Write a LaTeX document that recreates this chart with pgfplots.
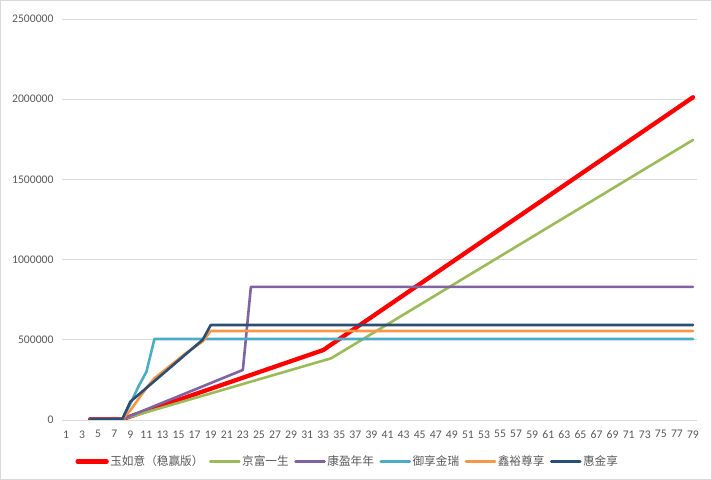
\documentclass[border=0pt]{standalone}
\usepackage{pgfplots}
\pgfplotsset{compat=1.18}
\usepackage{fontspec}
\setmainfont{Carlito}
\newfontfamily\cjk{Noto Sans CJK SC}
\definecolor{gridc}{HTML}{D9D9D9}
\definecolor{textc}{HTML}{595959}
\definecolor{cred}{HTML}{FF0000}
\definecolor{cgreen}{HTML}{9BBB59}
\definecolor{cpurple}{HTML}{8064A2}
\definecolor{ccyan}{HTML}{4BACC6}
\definecolor{corange}{HTML}{F79646}
\definecolor{cnavy}{HTML}{2C4D75}
\begin{document}
\begin{tikzpicture}[x=1bp,y=1bp]
\useasboundingbox (0,0) rectangle (712,480);
\draw[color=gridc, line width=0.75bp] (0.5,0.5) rectangle (711.5,479.5);
\begin{axis}[
  at={(62bp,60bp)}, anchor=south west,
  scale only axis, width=635bp, height=401bp,
  xmin=0.5, xmax=79.5, ymin=0, ymax=2500000,
  xtick={1,3,...,79},
  ytick={0,500000,1000000,1500000,2000000,2500000},
  scaled y ticks=false,
  /pgf/number format/assume math mode=true,
  yticklabel style={/pgf/number format/fixed, /pgf/number format/1000 sep={}, anchor=east, xshift=-5bp},
  xticklabel style={anchor=north, yshift=-7bp},
  ticklabel style={font=\fontsize{11.7}{13}\selectfont, text=textc},
  major tick length=0pt,
  axis line style={draw=none},
  ymajorgrids, grid style={color=gridc, line width=0.75bp},
  every axis plot/.append style={line cap=round, line join=round, mark=none},
  legend columns=6,
  legend cell align=left,
  legend image code/.code={\draw[#1] (0bp,0bp) -- (29bp,0bp);},
  legend style={at={(axis description cs:0.4496,-0.1035)}, anchor=center, draw=none, fill=none,
    font=\cjk\fontsize{11.7}{13}\selectfont, text=textc, inner sep=0pt,
    nodes={inner sep=1.5bp},
    /tikz/every even column/.append style={column sep=4bp}},
]
\addplot[color=cred, line width=4.3bp] coordinates {
 (4,5000) (5,5000) (6,5000) (7,5000) (8,5000) (33,436000) (79,2012000)};
\addlegendentry{玉如意（稳赢版）}
\addplot[color=cgreen, line width=2.6bp] coordinates {
 (4,5000) (5,5000) (6,5000) (7,5000) (8,5000) (34,385000) (79,1746000)};
\addlegendentry{京富一生}
\addplot[color=cpurple, line width=2.6bp] coordinates {
 (4,5000) (5,5000) (6,5000) (7,5000) (8,5000) (23,312000) (24,830000) (79,830000)};
\addlegendentry{康盈年年}
\addplot[color=ccyan, line width=2.6bp] coordinates {
 (4,5000) (5,5000) (6,5000) (7,5000) (8,5000) (9,100000) (10,208000) (11,300000) (12,505000) (79,505000)};
\addlegendentry{御享金瑞}
\addplot[color=corange, line width=2.6bp] coordinates {
 (4,5000) (5,5000) (6,5000) (7,5000) (8,5000) (9,60000) (10,130000) (11,200000) (12,260000) (13,300000)
 (14,340000) (15,380000) (16,420000) (17,455000) (18,490000) (19,555000) (79,555000)};
\addlegendentry{鑫裕尊享}
\addplot[color=cnavy, line width=2.6bp] coordinates {
 (4,5000) (5,5000) (6,5000) (7,5000) (8,5000) (9,114000) (18,500000) (19,592000) (79,592000)};
\addlegendentry{惠金享}
\end{axis}
\end{tikzpicture}
\end{document}
